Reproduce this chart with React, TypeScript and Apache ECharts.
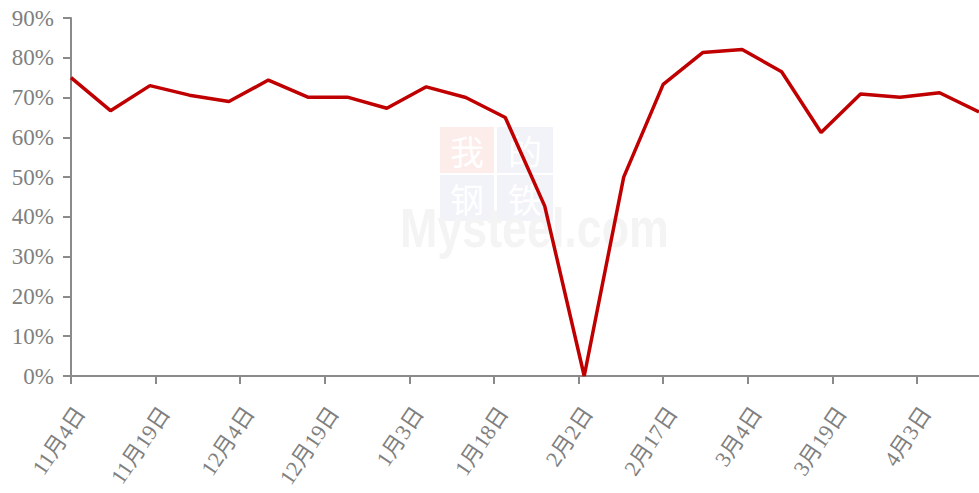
import React, { useEffect, useRef } from "react";
import * as echarts from "echarts";

// Weekly observation dates (2018-11 to 2019-04)
const dates = [
  "2018-11-04", "2018-11-11", "2018-11-18", "2018-11-25", "2018-12-02", "2018-12-09",
  "2018-12-16", "2018-12-23", "2018-12-30", "2019-01-06", "2019-01-13", "2019-01-20",
  "2019-01-27", "2019-02-03", "2019-02-10", "2019-02-17", "2019-02-24", "2019-03-03",
  "2019-03-10", "2019-03-17", "2019-03-24", "2019-03-31", "2019-04-07", "2019-04-14",
];
// Rate in %
const values = [
  75.0, 66.7, 73.0, 70.6, 69.0, 74.4, 70.1, 70.1, 67.3, 72.7, 70.0, 65.0,
  42.7, 0.0, 50.0, 73.3, 81.3, 82.1, 76.5, 61.2, 70.9, 70.1, 71.2, 66.4,
];
// Tick dates on the x axis (every 15 days)
const tickDates = [
  "2018-11-04", "2018-11-19", "2018-12-04", "2018-12-19", "2019-01-03", "2019-01-18",
  "2019-02-02", "2019-02-17", "2019-03-04", "2019-03-19", "2019-04-03",
];
const yTicks = [0, 10, 20, 30, 40, 50, 60, 70, 80, 90];

const toDate = (s: string) => {
  const [y, m, d] = s.split("-").map(Number);
  return new Date(Date.UTC(y, m - 1, d));
};
const start = toDate(dates[0]).getTime();
const dayOffset = (s: string) => Math.round((toDate(s).getTime() - start) / 86400000);
const labelOf = (s: string) => {
  const d = toDate(s);
  return `${d.getUTCMonth() + 1}月${d.getUTCDate()}日`;
};

const FONT = '"Liberation Serif", "Times New Roman", "Noto Sans CJK SC", serif';
const GRAY = "#808080";
const AXIS = "#8a8a8a";

export default function App() {
  const ref = useRef<HTMLDivElement>(null);
  useEffect(() => {
    if (!ref.current) return;
    const chart = echarts.init(ref.current, null, { renderer: "svg" });
    const tickOffsets = tickDates.map(dayOffset);
    const labelMap: Record<number, string> = {};
    tickDates.forEach((t) => (labelMap[dayOffset(t)] = labelOf(t)));
    const lastOffset = dayOffset(dates[dates.length - 1]);
    const wmChar = (ch: string, x: number, y: number) => ({
      type: "text", x, y, silent: true, z: 1,
      style: { text: ch, font: '34px "Noto Sans CJK SC"', fill: "#ffffff", align: "center", verticalAlign: "middle" },
    });

    chart.setOption({
      animation: false,
      backgroundColor: "#ffffff",
      grid: { left: 71, right: 0, top: 18, bottom: 117, containLabel: false, outerBoundsMode: "none" },
      graphic: [
        { type: "rect", shape: { x: 440, y: 127, width: 54, height: 46 }, style: { fill: "#fcecea" }, silent: true, z: 0 },
        { type: "rect", shape: { x: 497, y: 127, width: 56, height: 46 }, style: { fill: "#f1f3f8" }, silent: true, z: 0 },
        { type: "rect", shape: { x: 440, y: 175, width: 54, height: 46 }, style: { fill: "#f1f3f8" }, silent: true, z: 0 },
        { type: "rect", shape: { x: 497, y: 175, width: 56, height: 46 }, style: { fill: "#f1f3f8" }, silent: true, z: 0 },
        wmChar("我", 467, 150),
        wmChar("的", 525, 150),
        wmChar("钢", 467, 198),
        wmChar("铁", 525, 198),
        { type: "text", x: 400, y: 228, scaleX: 0.8, style: { text: "Mysteel.com", font: 'bold 56px "Liberation Sans", Arial, sans-serif', fill: "#f4f4f4", align: "left", verticalAlign: "middle" }, silent: true, z: 1 },
      ],
      xAxis: {
        type: "value",
        min: 0,
        max: lastOffset,
        splitLine: { show: false },
        axisLine: { show: true, lineStyle: { color: AXIS, width: 2 } },
        axisTick: { show: true, length: 8, lineStyle: { color: AXIS, width: 2 }, customValues: tickOffsets },
        axisLabel: {
          customValues: tickOffsets,
          formatter: (v: number) => labelMap[v] ?? "",
          rotate: 56,
          margin: 27,
          verticalAlign: "top",
          color: GRAY,
          fontFamily: FONT,
          fontSize: 22,
        },
      },
      yAxis: {
        type: "value",
        min: yTicks[0],
        max: yTicks[yTicks.length - 1],
        interval: 10,
        splitLine: { show: false },
        axisLine: { show: true, lineStyle: { color: AXIS, width: 2 } },
        axisTick: { show: true, length: 8, lineStyle: { color: AXIS, width: 2 } },
        axisLabel: {
          formatter: "{value}%",
          margin: 17,
          color: GRAY,
          fontFamily: FONT,
          fontSize: 23,
        },
      },
      series: [
        {
          type: "line",
          data: dates.map((d, i) => [dayOffset(d), values[i]]),
          symbol: "none",
          lineStyle: { color: "#c00000", width: 3.5 },
          z: 3,
        },
      ],
    });
    return () => chart.dispose();
  }, []);
  return <div ref={ref} style={{ position: "absolute", left: 0, top: 0, width: 979, height: 493 }} />;
}
